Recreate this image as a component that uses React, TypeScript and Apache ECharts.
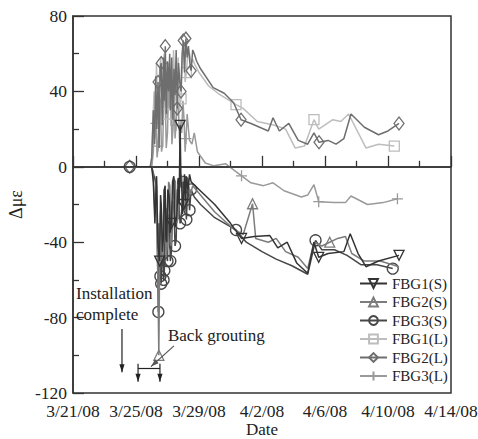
import React, { useEffect, useRef } from "react";
import * as echarts from "echarts";

const FONT = "Liberation Serif, Times New Roman, serif";
const TXT = "#222";

// x = days since 3/21/08
const xTicks = [0, 4, 8, 12, 16, 20, 24];
const yTicks = [-120, -80, -40, 0, 40, 80];

const fbg1S: number[][] = [[3.6,0],[4.9,0],[5.0,0],[5.1,-8],[5.2,-30],[5.3,-5],[5.4,-42],[5.5,-50],[5.56,-15],[5.6,-20],[5.68,-45],[5.75,-36],[5.8,-12],[5.85,-10],[5.9,-38],[5.95,-40],[6.02,-12],[6.1,-15],[6.17,-35],[6.25,-30],[6.32,-8],[6.4,-5],[6.48,-32],[6.55,-28],[6.6,-25],[6.68,-6],[6.74,-20],[6.8,22],[6.86,-10],[6.9,-8],[6.95,-25],[7.0,-20],[7.08,-4],[7.15,-18],[7.2,-5],[7.3,-12],[7.4,-4],[7.5,-8],[8,-12],[9,-20],[10,-30],[10.7,-38],[11.5,-37],[12.5,-36.5],[13,-43],[13.6,-40],[14.2,-51],[14.9,-56.5],[15.3,-40],[15.6,-48],[16.2,-46],[17.2,-45],[17.6,-35.5],[18.1,-46],[18.6,-53],[19.4,-50],[20.7,-47]];
const fbg1SMarks = [5.5, 6.25, 6.8, 7.0, 10.7, 15.6, 20.7];

const fbg2S: number[][] = [[3.6,0],[4.9,0],[5.0,0],[5.1,-5],[5.2,-25],[5.3,-5],[5.38,-55],[5.45,-100],[5.5,-50],[5.55,-25],[5.6,-20],[5.65,-50],[5.7,-45],[5.78,-12],[5.85,-15],[5.92,-48],[6.0,-40],[6.07,-8],[6.15,-10],[6.22,-42],[6.3,-35],[6.4,-6],[6.5,-8],[6.58,-30],[6.65,-28],[6.7,-25],[6.8,-4],[6.9,-5],[7.0,-22],[7.1,-20],[7.2,-6],[7.3,-8],[7.45,-15],[7.6,-10],[8.2,-16],[9,-24],[10.2,-33],[10.8,-36],[11.4,-19.6],[11.6,-38],[12.4,-40],[12.9,-38],[13.5,-45],[14.3,-48],[14.9,-54],[15.3,-40],[15.8,-42],[16.3,-40],[16.8,-38],[17.3,-37],[17.7,-46],[18.5,-50],[19.5,-50],[20.7,-53]];
const fbg2SMarks = [5.45, 11.4, 16.3];

const fbg3S: number[][] = [[3.6,0],[4.9,0],[5.0,0],[5.15,-5],[5.3,-10],[5.36,-45],[5.42,-77],[5.46,-30],[5.5,-48],[5.55,-58],[5.6,-62],[5.65,-40],[5.7,-45],[5.75,-60],[5.8,-55],[5.85,-30],[5.9,-22],[5.95,-48],[6.0,-50],[6.06,-25],[6.12,-28],[6.18,-50],[6.25,-45],[6.32,-18],[6.4,-20],[6.48,-42],[6.55,-39],[6.62,-12],[6.7,-15],[6.8,-30],[6.9,-25],[7.0,-8],[7.1,-10],[7.2,-28],[7.3,-7],[7.4,-23],[7.5,-12],[7.7,-16],[8.1,-20],[9,-27],[10.35,-33.5],[11,-40],[12,-45],[12.9,-49],[13.9,-52.5],[14.9,-57],[15.4,-39],[15.8,-44],[16.6,-44],[17.4,-47],[18.3,-52],[19.3,-52],[20.3,-54]];
const fbg3SMarks = [3.6, 5.42, 5.55, 5.6, 5.75, 5.8, 6.0, 6.18, 6.48, 6.8, 7.0, 7.2, 7.4, 7.5, 10.35, 15.4, 20.3];

const fbg1L: number[][] = [[3.6,0],[4.9,0],[5.0,3],[5.08,25],[5.15,40],[5.22,15],[5.3,55],[5.37,30],[5.44,20],[5.5,50],[5.57,58],[5.64,28],[5.7,35],[5.78,60],[5.85,45],[5.92,25],[6.0,28],[6.08,55],[6.15,50],[6.22,22],[6.3,30],[6.38,62],[6.45,48],[6.52,35],[6.6,38],[6.68,58],[6.76,30],[6.86,36],[6.95,60],[7.05,64],[7.12,45],[7.2,50],[7.3,62],[7.4,60],[7.5,55],[7.6,57],[7.75,54],[8.0,50],[8.6,43],[9.2,39],[10.35,33],[10.8,31],[11.7,24],[12.8,22],[13.5,20],[14.1,10],[14.7,11],[15.3,25],[15.6,20],[16.5,25],[17,24],[17.5,28],[18.6,10],[19.4,12],[20.4,11]];
const fbg1LMarks = [6.0, 6.86, 7.2, 10.35, 15.3, 20.4];

const fbg2L: number[][] = [[3.6,0],[4.9,0],[5.0,5],[5.1,30],[5.18,12],[5.25,48],[5.32,20],[5.4,45],[5.47,10],[5.53,52],[5.6,55],[5.67,22],[5.74,58],[5.8,35],[5.86,64],[5.93,28],[6.0,56],[6.07,40],[6.14,60],[6.2,30],[6.27,58],[6.34,25],[6.41,52],[6.48,38],[6.55,62],[6.62,31],[6.7,55],[6.78,45],[6.86,40],[6.93,60],[7.0,67],[7.08,50],[7.17,68],[7.25,58],[7.33,64],[7.42,55],[7.5,51],[7.6,62],[7.7,60],[7.85,56],[8.1,52],[8.9,42],[9.6,39],[10.2,34],[10.67,25],[11.3,23],[12.4,19],[12.7,26],[13.1,19],[13.7,23],[14.3,14],[14.9,12],[15.3,18],[15.62,13],[16.2,14],[16.7,12],[17.2,15],[17.65,28],[18.5,21],[19.4,17],[20,19],[20.7,23]];
const fbg2LMarks = [3.6, 5.4, 5.6, 5.86, 6.62, 6.86, 7.0, 7.17, 7.5, 10.67, 15.62, 20.7];

const fbg3L: number[][] = [[3.6,0],[4.9,0],[5.0,0],[5.1,8],[5.18,30],[5.27,23],[5.34,5],[5.4,11],[5.47,38],[5.55,35],[5.62,8],[5.7,12],[5.78,42],[5.85,40],[5.92,10],[6.0,18],[6.08,48],[6.15,30],[6.2,45],[6.28,12],[6.35,20],[6.42,40],[6.48,15],[6.54,22],[6.62,35],[6.7,30],[6.78,10],[6.86,25],[6.9,18],[6.98,35],[7.05,25],[7.12,8],[7.17,15],[7.25,28],[7.33,20],[7.4,14],[7.55,12],[7.7,18],[7.9,8],[8.4,2],[8.95,0.5],[9.7,1.6],[10.7,-4.8],[11.3,-8.5],[12.1,-10],[12.7,-8.5],[13.4,-12.7],[14.5,-16],[14.9,-15],[15.3,-9.5],[15.6,-18.5],[16.6,-19],[17.3,-19],[17.65,-15.5],[18.7,-20],[19.7,-19],[20.6,-17]];
const fbg3LMarks = [5.27, 5.4, 6.54, 7.17, 10.7, 15.6, 20.6];

function dayLabel(d: number) {
  const dt = new Date(2008, 2, 21 + Math.round(d));
  return `${dt.getMonth() + 1}/${dt.getDate()}/08`;
}

const INV_TRI = "path://M0,0L10,0L5,9Z";
const PLUS = "path://M5,0L5,10M0,5L10,5";

export default function App() {
  const ref = useRef<HTMLDivElement>(null);
  useEffect(() => {
    const chart = echarts.init(ref.current!, null, { renderer: "svg" });
    const mk = (name: string, data: number[][], marks: number[], color: string, symbol: string, size: any, z: number) => ({
      type: "line",
      name,
      data,
      symbol,
      showSymbol: true,
      symbolSize: (v: number[]) => (marks.includes(v[0]) ? size : 0),
      lineStyle: { color, width: 1.5 },
      itemStyle: { color: "rgba(255,255,255,0)", borderColor: color, borderWidth: 1.3 },
      emphasis: { disabled: true },
      z,
    });
    const series: any[] = [
      mk("FBG1(S)", fbg1S, fbg1SMarks, "#333333", INV_TRI, 10, 6),
      mk("FBG2(S)", fbg2S, fbg2SMarks, "#7c7c7c", "triangle", 10, 5),
      mk("FBG3(S)", fbg3S, fbg3SMarks, "#474747", "circle", 11, 4),
      mk("FBG1(L)", fbg1L, fbg1LMarks, "#bdbdbd", "rect", 10, 2),
      mk("FBG2(L)", fbg2L, fbg2LMarks, "#6e6e6e", "diamond", [10, 13], 3),
      mk("FBG3(L)", fbg3L, fbg3LMarks, "#9a9a9a", PLUS, 11, 2),
    ];
    series[0].markLine = {
      silent: true,
      symbol: "none",
      label: { show: false },
      lineStyle: { color: "#333", width: 1.5, type: "solid" },
      data: [{ yAxis: 0 }],
    };
    const axisCommon = {
      type: "value",
      axisLine: { show: true, lineStyle: { color: "#333", width: 1.5 } },
      axisTick: { show: true, inside: true, length: 11, lineStyle: { color: "#333", width: 1.3 } },
      minorTick: { show: true, splitNumber: 2, length: 6, lineStyle: { color: "#333", width: 1.3 } },
      splitLine: { show: false },
      minorSplitLine: { show: false },
      nameMoveOverlap: false,
    };
    chart.setOption({
      animation: false,
      backgroundColor: "#fff",
      textStyle: { fontFamily: FONT },
      grid: {
        left: 73, right: 27, top: 16, bottom: 46,
        show: true, borderColor: "#333", borderWidth: 1.5,
        containLabel: false, outerBoundsMode: "none",
      },
      xAxis: {
        ...axisCommon,
        min: xTicks[0],
        max: xTicks[xTicks.length - 1],
        interval: xTicks[1] - xTicks[0],
        name: "Date",
        nameLocation: "middle",
        nameGap: 28.5,
        nameTextStyle: { fontFamily: FONT, fontSize: 17, color: TXT, lineHeight: 16 },
        axisLabel: { formatter: dayLabel, fontFamily: FONT, fontSize: 17.5, color: TXT, margin: 9, lineHeight: 17 },
      },
      yAxis: {
        ...axisCommon,
        min: yTicks[0],
        max: yTicks[yTicks.length - 1],
        interval: yTicks[1] - yTicks[0],
        name: "Δμε",
        nameLocation: "middle",
        nameGap: 48,
        nameTextStyle: { fontFamily: FONT, fontSize: 18, color: TXT },
        axisLabel: { fontFamily: FONT, fontSize: 17.5, color: TXT, margin: 6, lineHeight: 16 },
      },
      legend: {
        orient: "vertical",
        left: 354,
        top: 271,
        itemWidth: 27,
        itemHeight: 11,
        itemGap: 3.5,
        textStyle: { fontFamily: FONT, fontSize: 15, color: TXT },
        data: series.map((s) => s.name),
      },
      series,
    });

    const P = (d: number, v: number) => chart.convertToPixel({ gridIndex: 0 }, [d, v]) as number[];
    const arrowHead = (from: number[], to: number[], color: string) => {
      const dx = to[0] - from[0];
      const dy = to[1] - from[1];
      const L = Math.hypot(dx, dy) || 1;
      const ux = dx / L, uy = dy / L;
      const len = 8, hw = 2.6;
      const bx = to[0] - ux * len, by = to[1] - uy * len;
      return {
        type: "polygon",
        shape: { points: [to, [bx - uy * hw, by + ux * hw], [bx + uy * hw, by - ux * hw]] },
        style: { fill: color },
        z: 100,
      };
    };
    const line = (a: number[], b: number[], color = "#222") => ({
      type: "line",
      shape: { x1: a[0], y1: a[1], x2: b[0], y2: b[1] },
      style: { stroke: color, lineWidth: 1.2 },
      z: 100,
    });
    const text = (p: number[], s: string) => ({
      type: "text",
      x: p[0],
      y: p[1],
      style: { text: s, font: `17px ${FONT}`, fill: TXT, textAlign: "left", textVerticalAlign: "middle" },
      z: 100,
    });

    const instTop = P(3.11, -86), instBot = P(3.11, -109);
    const bL = P(4.13, -107), bR = P(5.52, -107);
    const bLt = P(4.13, -104.5), bLb = P(4.13, -114);
    const bRt = P(5.52, -104.5), bRb = P(5.52, -114);
    const bgFrom = P(6.41, -95), bgTo = P(4.95, -106);

    chart.setOption({
      graphic: [
        text(P(0.19, -67.3), "Installation"),
        text(P(0.19, -78.5), "complete"),
        text(P(6.03, -89.5), "Back grouting"),
        line(instTop, instBot),
        arrowHead(instTop, instBot, "#222"),
        line(bL, bR),
        line(bLt, bLb),
        arrowHead(bLt, bLb, "#222"),
        line(bRt, bRb),
        arrowHead(bRt, bRb, "#222"),
        line(bgFrom, bgTo, "#555"),
        arrowHead(bgFrom, bgTo, "#555"),
      ],
    });

    return () => chart.dispose();
  }, []);
  return <div ref={ref} style={{ position: "fixed", left: 0, top: 0, width: 478, height: 439 }} />;
}
